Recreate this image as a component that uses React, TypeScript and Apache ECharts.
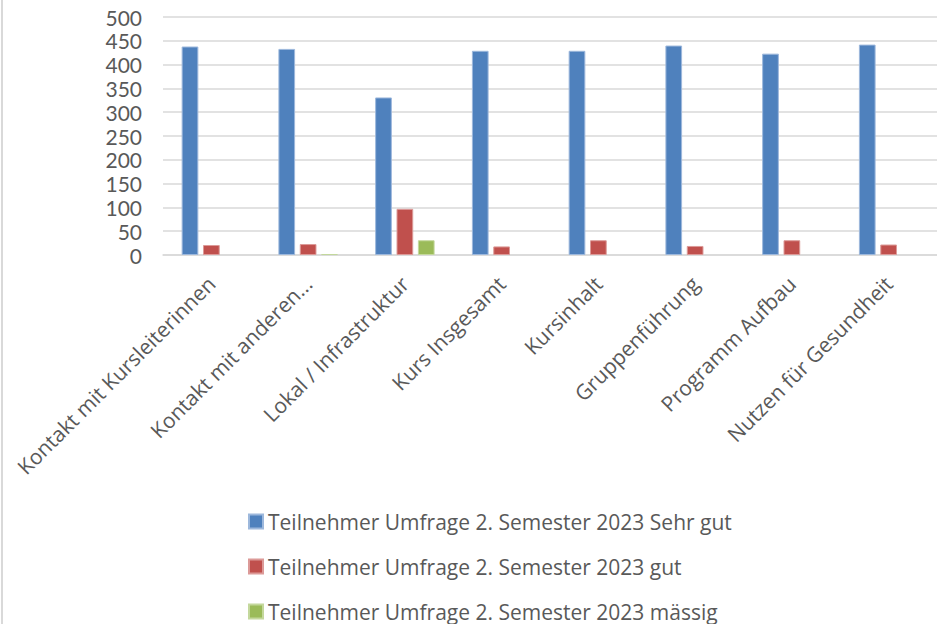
import React, { useEffect, useRef } from "react";
import * as echarts from "echarts";

const categories = [
  "Kontakt mit Kursleiterinnen",
  "Kontakt mit anderen...",
  "Lokal / Infrastruktur",
  "Kurs Insgesamt",
  "Kursinhalt",
  "Gruppenführung",
  "Programm Aufbau",
  "Nutzen für Gesundheit",
];

const seriesNames = [
  "Teilnehmer Umfrage 2. Semester 2023 Sehr gut",
  "Teilnehmer Umfrage 2. Semester 2023 gut",
  "Teilnehmer Umfrage 2. Semester 2023 mässig",
];

const sehrGut = [438, 433, 331, 429, 429, 440, 423, 442];
const gut = [21, 23, 97, 18, 31, 19, 31, 22];
const maessig = [0, 2, 31, 0, 0, 0, 0, 0];

const yTicks = { min: 0, max: 500, interval: 50 };

const colors = ["#4f81bd", "#c0504d", "#9bbb59"];
const borders = ["#9db8dc", "#dc9a98", "#c4d89c"];

export default function App() {
  const ref = useRef<HTMLDivElement>(null);
  useEffect(() => {
    document.body.style.margin = "0";
    const chart = echarts.init(ref.current!, null, { renderer: "svg" });
    const font = "Lato, 'Open Sans', sans-serif";
    const font2 = "'Open Sans', Lato, sans-serif";
    const datasets = [sehrGut, gut, maessig];
    chart.setOption({
      animation: false,
      textStyle: { fontFamily: font },
      grid: { left: 163, right: 0, top: 17, bottom: 369, containLabel: false },
      graphic: [
        {
          type: "line",
          shape: { x1: 2, y1: 0, x2: 2, y2: 624 },
          style: { stroke: "#d9d9d9", lineWidth: 2 },
        },
      ],
      legend: {
        orient: "vertical",
        left: 248,
        top: 511,
        height: 113,
        padding: 0,
        itemWidth: 14,
        itemHeight: 14,
        itemGap: 24,
        icon: "rect",
        textStyle: { color: "#595959", fontSize: 21, fontFamily: font2 },
        data: seriesNames,
      },
      xAxis: {
        type: "category",
        data: categories,
        axisLine: { show: true, lineStyle: { color: "#d9d9d9", width: 1.5 } },
        axisTick: { show: false },
        axisLabel: {
          rotate: 45,
          interval: 0,
          color: "#595959",
          fontSize: 21,
          fontFamily: font2,
          margin: 25,
        },
      },
      yAxis: {
        type: "value",
        min: yTicks.min,
        max: yTicks.max,
        interval: yTicks.interval,
        axisLine: { show: false },
        axisTick: { show: false },
        splitLine: { lineStyle: { color: "#d9d9d9", width: 1.5 } },
        axisLabel: { color: "#595959", fontSize: 21, fontFamily: font, margin: 21 },
      },
      series: datasets.map((d, i) => ({
        name: seriesNames[i],
        type: "bar",
        data: d.map((v) => ({
          value: v,
          itemStyle: v === 0 ? { borderWidth: 0 } : {},
        })),
        barWidth: 16.7,
        barGap: "28%",
        itemStyle: { color: colors[i], borderColor: borders[i], borderWidth: 1 },
      })),
    });
    return () => chart.dispose();
  }, []);
  return <div ref={ref} style={{ width: 937, height: 624 }} />;
}
